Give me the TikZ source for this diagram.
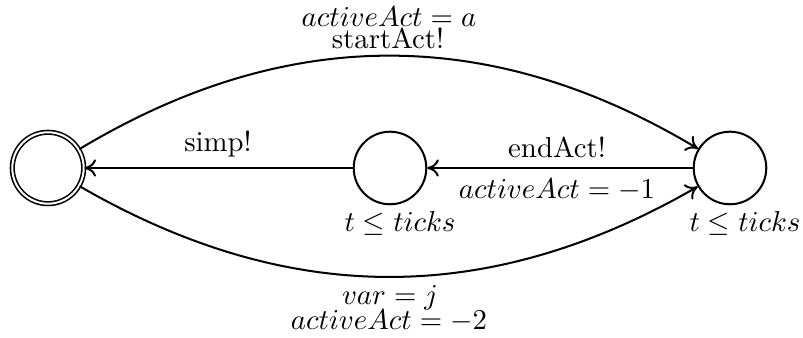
\documentclass[tikz,border=0pt]{standalone}
\usetikzlibrary{arrows.meta}
\begin{document}
\begin{tikzpicture}[x=0.3472pt,y=-0.3472pt,
  state/.style={circle, draw, line width=0.7pt, minimum size=25.2pt, inner sep=0pt},
  accstate/.style={circle, draw, line width=0.55pt, double, double distance=0.7pt, minimum size=24.8pt, inner sep=0pt},
  edge/.style={line width=0.7pt, -{To[length=4pt,width=6pt]}},
  lbl/.style={anchor=base, inner sep=0pt}]
\useasboundingbox (0,0) rectangle (803,338);
\node[accstate] (L) at (48,168) {};
\node[state] (M) at (390,168) {};
\node[state] (R) at (730,168) {};
\draw[edge] (L) to[bend left=31] (R);
\draw[edge] (L) to[bend right=30] (R);
\draw[edge] (M) -- (L);
\draw[edge] (R) -- (M);
\node[lbl] (t1) at (389,27) {$activeAct = a$};
\node[lbl] (t2) at (388,49) {startAct!};
\node[lbl] (b1) at (390,305) {$var = j$};
\node[lbl] (b2) at (389,330) {$activeAct = -2$};
\node[lbl] (s) at (218,152) {simp!};
\node[lbl] (e1) at (557,158) {endAct!};
\node[lbl] (e2) at (557,199) {$activeAct = -1$};
\node[lbl] (i1) at (400,232) {$t \leq ticks$};
\node[lbl] (i2) at (745,232) {$t \leq ticks$};
\end{tikzpicture}
\end{document}
